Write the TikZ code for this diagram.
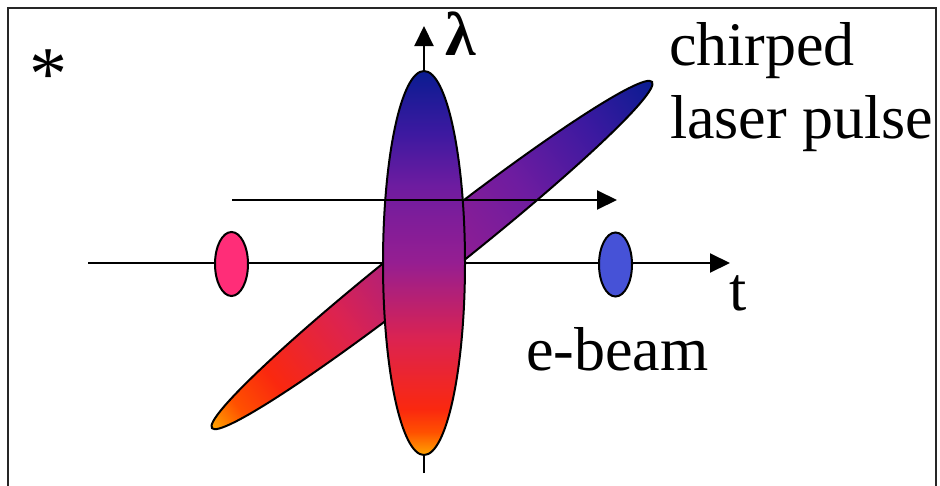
\documentclass[tikz,border=0pt]{standalone}
\usepackage{fontspec}
\setmainfont{Liberation Serif}
\usetikzlibrary{arrows.meta,shapes.geometric}
\definecolor{c0}{RGB}{255,165,0}
\definecolor{c1}{RGB}{255,80,0}
\definecolor{c2}{RGB}{250,40,15}
\definecolor{c3}{RGB}{220,35,80}
\definecolor{c4}{RGB}{150,30,145}
\definecolor{c5}{RGB}{110,28,160}
\definecolor{c6}{RGB}{60,25,160}
\definecolor{c7}{RGB}{10,28,145}
\definecolor{bunchpink}{RGB}{255,45,120}
\definecolor{bunchblue}{RGB}{70,82,215}
\pgfdeclareverticalshading{chirpv}{100bp}{color(0bp)=(c0); color(25bp)=(c0); color(28bp)=(c1); color(31bp)=(c2); color(40bp)=(c3); color(50bp)=(c4); color(60bp)=(c5); color(67bp)=(c6); color(75bp)=(c7); color(100bp)=(c7)}
\pgfdeclarehorizontalshading{chirph}{100bp}{color(0bp)=(c0); color(25bp)=(c0); color(28bp)=(c1); color(32bp)=(c2); color(40bp)=(c3); color(50bp)=(c4); color(60bp)=(c5); color(68bp)=(c6); color(75bp)=(c7); color(100bp)=(c7)}
\begin{document}
\begin{tikzpicture}[x=1pt,y=-1pt,line width=2pt,
  tip/.style={-{Triangle[length=20pt,width=19pt]}},
  bunch/.style={ellipse,draw,inner sep=0pt,minimum width=33pt,minimum height=64pt},
  lbl/.style={inner sep=0pt,anchor=base west,font=\fontsize{62}{70}\selectfont}]
\useasboundingbox (0,0) rectangle (940,485);
\fill[white] (0,0) rectangle (940,485);
\draw[line width=2.5pt,black!85] (8,495) -- (8,8) -- (936,8) -- (936,495);
% axes
\coordinate (tstart) at (88,263);
\coordinate (tend) at (730,263);
\coordinate (lbot) at (424,473);
\coordinate (ltop) at (424,26);
\draw[tip] (tstart) -- (tend);
\draw[tip] (lbot) -- (ltop);
% chirped laser pulse
\begin{scope}[transform canvas={shift={(432,255)},rotate=38.2}]
  \shadedraw[shading=chirph] (0,0) ellipse (280pt and 24pt);
\end{scope}
% vertical pulse
\node[ellipse,draw,shading=chirpv,inner sep=0pt,minimum width=82pt,minimum height=384pt] (vpulse) at (424,263) {};
% electron bunches
\node[bunch,fill=bunchpink] (pinkbunch) at (231.5,264) {};
\node[bunch,fill=bunchblue] (bluebunch) at (615.5,264.5) {};
% upper arrow
\coordinate (ustart) at (232,200);
\coordinate (uend) at (617,200);
\draw[tip] (ustart) -- (uend);
% labels
\node[lbl] (chirped) at (668,65) {chirped};
\node[lbl] (laser) at (669,138) {laser pulse};
\node[lbl] (ebeam) at (525,370) {e-beam};
\node[lbl] (tlabel) at (728,310) {t};
\node[lbl,font=\fontsize{62}{70}\selectfont\bfseries] (lambda) at (444,55) {λ};
\node[lbl,font=\fontsize{76}{80}\selectfont] (star) at (28,99) {*};
\end{tikzpicture}
\end{document}
